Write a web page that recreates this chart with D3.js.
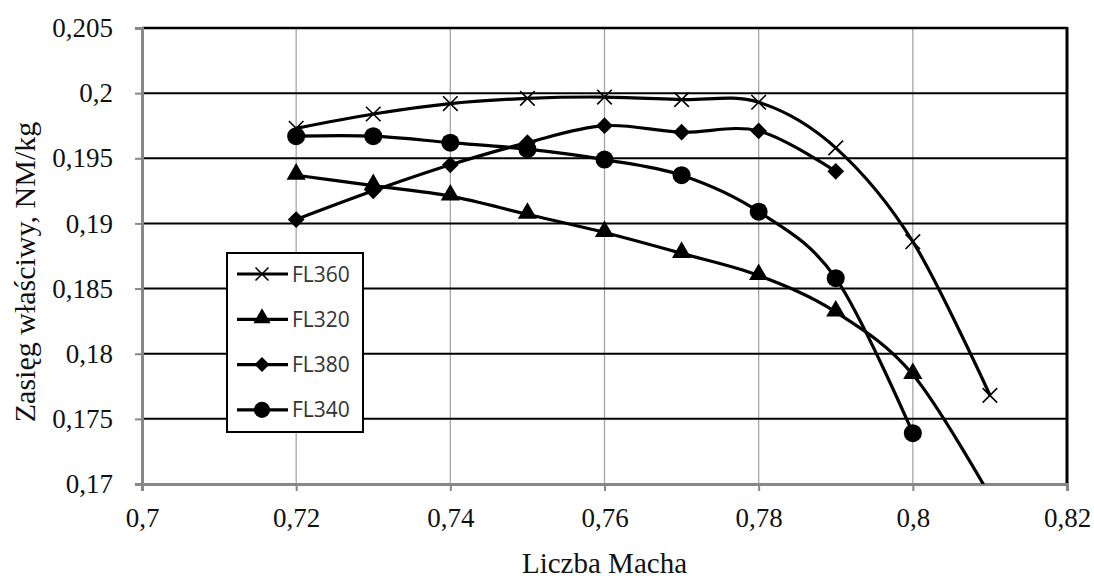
<!DOCTYPE html>
<html>
<head>
<meta charset="utf-8">
<script src="https://cdn.jsdelivr.net/npm/d3@7"></script>
<style>
  body { margin: 0; background: #fff; }
  svg { display: block; }
</style>
</head>
<body>
<svg width="1094" height="579"></svg>
<script>
// liczba Macha
var mach = [0.72, 0.73, 0.74, 0.75, 0.76, 0.77, 0.78, 0.79, 0.80, 0.81]

var fl360 = [0.1973, 0.1984, 0.1992, 0.1996, 0.1997, 0.1995, 0.1993, 0.1958, 0.1886, 0.1768]
var fl320 = [0.1937, 0.1929, 0.1921, 0.1907, 0.1893, 0.1877, 0.1860, 0.1832, 0.1784, 0.1691]
var fl380 = [0.1903, 0.1925, 0.1945, 0.1962, 0.1975, 0.1970, 0.1971, 0.1940]
var fl340 = [0.1967, 0.1967, 0.1962, 0.1957, 0.1949, 0.1937, 0.1909, 0.1858, 0.1739]

var seriesNames = ['FL360', 'FL320', 'FL380', 'FL340']
var seriesMarkers = ['cross', 'triangle', 'diamond', 'circle']
var seriesValues = [fl360, fl320, fl380, fl340]

var xTicks = [0.7, 0.72, 0.74, 0.76, 0.78, 0.8, 0.82]
var yTicks = [0.17, 0.175, 0.18, 0.185, 0.19, 0.195, 0.2, 0.205]

var svg = d3.select("svg"),
    width = +svg.attr("width"),
    height = +svg.attr("height")

var margin = {top: 28, right: 27, bottom: 95, left: 142}

var x = d3.scaleLinear().domain([0.7, 0.82]).range([margin.left, width - margin.right])
var y = d3.scaleLinear().domain([0.17, 0.205]).range([height - margin.bottom, margin.top])

var fmt = function (d) { return String(+d.toFixed(3)).replace('.', ',') }

svg.append("defs").append("clipPath").attr("id", "plot")
  .append("rect")
    .attr("x", x(0.7)).attr("y", y(0.205))
    .attr("width", x(0.82) - x(0.7)).attr("height", y(0.17) - y(0.205))

// vertical grid (grey)
svg.append("g").selectAll("line")
  .data(xTicks.slice(1, -1))
  .enter().append("line")
    .attr("x1", d => x(d)).attr("x2", d => x(d))
    .attr("y1", y(0.205)).attr("y2", y(0.17))
    .attr("stroke", "#a6a6a6").attr("stroke-width", 1.3)

// horizontal grid (black)
svg.append("g").selectAll("line")
  .data(yTicks.slice(1))
  .enter().append("line")
    .attr("x1", x(0.7)).attr("x2", x(0.82))
    .attr("y1", d => y(d)).attr("y2", d => y(d))
    .attr("stroke", "#000").attr("stroke-width", d => d === 0.205 ? 2.6 : 2)

// right border
svg.append("line")
  .attr("x1", x(0.82)).attr("x2", x(0.82))
  .attr("y1", y(0.205) - 1).attr("y2", y(0.17))
  .attr("stroke", "#000").attr("stroke-width", 3)

// axes
var xAxis = svg.append("g")
  .attr("transform", "translate(0," + y(0.17) + ")")
  .call(d3.axisBottom(x).tickValues(xTicks).tickFormat(fmt).tickSize(7).tickPadding(16))

var yAxis = svg.append("g")
  .attr("transform", "translate(" + x(0.7) + ",0)")
  .call(d3.axisLeft(y).tickValues(yTicks).tickFormat(fmt).tickSize(7).tickPadding(22))

;[xAxis, yAxis].forEach(function (a) {
  a.select(".domain").attr("stroke", "#878787").attr("stroke-width", 3)
  a.selectAll(".tick line").attr("stroke", "#878787").attr("stroke-width", 2)
  a.selectAll(".tick text")
    .attr("fill", "#111")
    .style("font-family", "'Liberation Serif', 'Times New Roman', serif")
    .style("font-size", "27px")
})
xAxis.selectAll(".tick text").attr("dy", "0.75em")

// axis titles
svg.append("text")
  .attr("x", (x(0.7) + x(0.82)) / 2)
  .attr("y", 573)
  .attr("text-anchor", "middle")
  .style("font-family", "'Liberation Serif', 'Times New Roman', serif")
  .style("font-size", "29px")
  .attr("fill", "#111")
  .text("Liczba Macha")

svg.append("text")
  .attr("transform", "translate(35," + 272 + ") rotate(-90)")
  .attr("text-anchor", "middle")
  .style("font-family", "'Liberation Serif', 'Times New Roman', serif")
  .style("font-size", "30px")
  .attr("fill", "#111")
  .text("Zasięg właściwy, NM/kg")

// series
var line = d3.line()
  .x(d => x(d[0]))
  .y(d => y(d[1]))
  .curve(d3.curveCatmullRom.alpha(0))

function drawMarker (g, type, cx, cy, s) {
  s = s || 1
  if (type === 'cross') {
    g.append("path")
      .attr("d", d3.symbol(d3.symbolX, 140 * s)())
      .attr("transform", "translate(" + cx + "," + cy + ")")
      .attr("fill", "none").attr("stroke", "#000").attr("stroke-width", 1.6)
  } else if (type === 'triangle') {
    g.append("path")
      .attr("d", d3.symbol(d3.symbolTriangle, 160 * s)())
      .attr("transform", "translate(" + cx + "," + (cy - 1) + ")")
      .attr("fill", "#000")
  } else if (type === 'diamond') {
    g.append("path")
      .attr("d", d3.symbol(d3.symbolSquare, 140 * s)())
      .attr("transform", "translate(" + cx + "," + cy + ") rotate(45)")
      .attr("fill", "#000")
  } else {
    g.append("circle")
      .attr("cx", cx).attr("cy", cy).attr("r", 9 * Math.sqrt(s))
      .attr("fill", "#000")
  }
}

var plot = svg.append("g").attr("clip-path", "url(#plot)")

seriesValues.forEach(function (vals, i) {
  var pts = vals.map((v, j) => [mach[j], v])
  plot.append("path")
    .datum(pts)
    .attr("d", line)
    .attr("fill", "none")
    .attr("stroke", "#000")
    .attr("stroke-width", 3.2)
  pts.forEach(function (p) {
    drawMarker(plot, seriesMarkers[i], x(p[0]), y(p[1]))
  })
})

// legend
var legend = svg.append("g")
legend.append("rect")
  .attr("x", 227).attr("y", 253)
  .attr("width", 136).attr("height", 179)
  .attr("fill", "#fff").attr("stroke", "#000").attr("stroke-width", 2)

seriesNames.forEach(function (name, i) {
  var ly = 274 + i * 45.3
  var row = legend.append("g")
  row.append("line")
    .attr("x1", 237).attr("x2", 288)
    .attr("y1", ly).attr("y2", ly)
    .attr("stroke", "#000").attr("stroke-width", 3.2)
  drawMarker(row, seriesMarkers[i], 262, ly, 0.8)
  row.append("text")
    .attr("x", 292).attr("y", ly)
    .attr("dy", "0.36em")
    .style("font-family", "'Open Sans', sans-serif")
    .style("font-size", "21px")
    .attr("fill", "#333")
    .text(name)
})
</script>
</body>
</html>
